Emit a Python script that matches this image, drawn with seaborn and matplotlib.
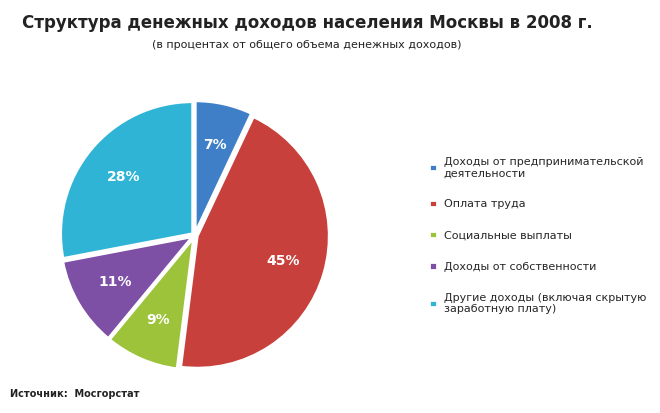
import matplotlib
matplotlib.use("Agg")
import matplotlib.pyplot as plt
import seaborn as sns

categories = ["Доходы от предпринимательской\nдеятельности", "Оплата труда",
              "Социальные выплаты", "Доходы от собственности",
              "Другие доходы (включая скрытую\nзаработную плату)"]
values = [7, 45, 9, 11, 28]
labels = ["7%", "45%", "9%", "11%", "28%"]
colors = ["#3F7FC8", "#C8403C", "#9DC33B", "#7D4FA5", "#2FB4D6"]

sns.set_theme(style="white", font="DejaVu Sans")
fig = plt.figure(figsize=(6.6, 4.13), dpi=100)
fig.patch.set_facecolor("white")
ax = fig.add_axes([0.045, 0.03, 0.5, 0.8])
wedges, texts, autotexts = ax.pie(
    values, colors=colors, startangle=90, counterclock=False,
    explode=[0.02] * 5, autopct=lambda p: "", pctdistance=0.68, radius=1.0,
    wedgeprops=dict(edgecolor="white", linewidth=2))
for at, lab in zip(autotexts, labels):
    at.set_text(lab)
    at.set_color("white")
    at.set_fontweight("bold")
    at.set_fontsize(10)
ax.set_aspect("equal")

fig.text(0.465, 0.945, "Структура денежных доходов населения Москвы в 2008 г.",
         ha="center", va="center", fontsize=12, fontweight="bold", color="#222222")
fig.text(0.465, 0.89, "(в процентах от общего объема денежных доходов)",
         ha="center", va="center", fontsize=8, color="#222222")
fig.text(0.015, 0.045, "Источник:  Мосгорстат", ha="left", va="center",
         fontsize=7, fontweight="bold", color="#222222")

leg = fig.legend(wedges, categories, loc="center left", bbox_to_anchor=(0.635, 0.43),
                 frameon=False, fontsize=8, handlelength=0.7, handleheight=0.7,
                 labelspacing=1.9, handletextpad=0.6)
plt.savefig("out.png", dpi=100)
